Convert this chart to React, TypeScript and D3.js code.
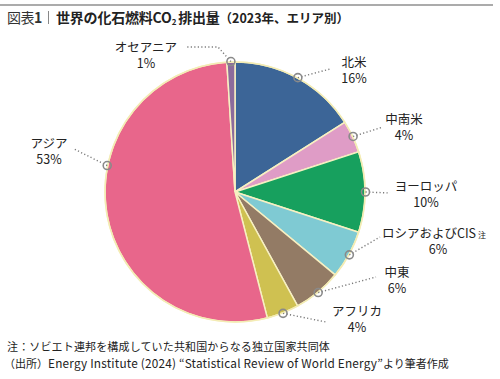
import React from "react";
import * as d3 from "d3";

const regions = ["北米", "中南米", "ヨーロッパ", "ロシアおよびCIS", "中東", "アフリカ", "アジア", "オセアニア"];
const shares = [16, 4, 10, 6, 6, 4, 53, 1];
const colors = ["#3c6597", "#df9cc6", "#17a05e", "#7fcad3", "#937b65", "#cfc151", "#e8668b", "#8c6b9c"];

// label layout (annotation placement)
const labelLayout = [
  { x: 354, y: 67, path: [[330, 69]], angle: null, note: false },
  { x: 404, y: 124, path: [[383, 127]], angle: null, note: false },
  { x: 426, y: 191, path: [[390, 193]], angle: null, note: false },
  { x: 434, y: 238, path: [[380, 237]], angle: null, note: true },
  { x: 397, y: 277, path: [[376, 277]], angle: null, note: false },
  { x: 357, y: 316, path: [[326, 322]], angle: null, note: false },
  { x: 49, y: 148, path: [[74, 149]], angle: 281.7, note: false },
  { x: 146, y: 52, path: [[218, 47], [185, 47]], angle: null, note: false },
];

const W = 500;
const H = 379;
const cx = 235;
const cy = 192;
const R = 130;
const FONT = "'Noto Sans CJK JP', 'Noto Sans', sans-serif";

export default function App() {
  const pie = d3.pie<number>().sort(null).value((d) => d);
  const arcs = pie(shares);
  const arcGen = d3.arc<d3.PieArcDatum<number>>().innerRadius(0).outerRadius(R);

  return (
    <svg width={W} height={H} style={{ position: "absolute", left: 0, top: 0, background: "#fff" }} fontFamily={FONT}>
      <rect x={0} y={4} width={493} height={2} fill="#ababab" />
      <text x={7} y={23} fontSize={14} fill="#333">
        <tspan letterSpacing={-0.5}>図表</tspan>
        <tspan fontWeight="bold">1</tspan>
      </text>
      <rect x={48} y={11} width={1} height={13} fill="#888" />
      <text x={56} y={23} fontSize={14} fontWeight="bold" fill="#222" letterSpacing={-0.2}>
        世界の化石燃料CO<tspan fontSize={8} dy={2}>2</tspan>
        <tspan dy={-2} dx={2}>排出量</tspan>
        <tspan fontSize={12.5} letterSpacing={0}>（2023年、エリア別）</tspan>
      </text>

      <g transform={`translate(${cx},${cy})`}>
        {arcs.map((a, i) => (
          <path key={i} d={arcGen(a) || ""} fill={colors[i]} stroke="#f7f0c2" strokeWidth={1.5} />
        ))}
        <circle r={R} fill="none" stroke="#f3ecb4" strokeWidth={1.5} />
      </g>

      {arcs.map((a, i) => {
        const lay = labelLayout[i];
        const ang = lay.angle !== null ? (lay.angle * Math.PI) / 180 : (a.startAngle + a.endAngle) / 2;
        const mx = cx + (R + 0.5) * Math.sin(ang);
        const my = cy - (R + 0.5) * Math.cos(ang);
        const pts = [[mx, my], ...lay.path];
        const line = d3.line()(pts as [number, number][]) || "";
        return (
          <g key={i}>
            <path d={line} fill="none" stroke="#7a7a7a" strokeWidth={1.4} strokeDasharray="1.2 2.3" />
            <circle cx={mx} cy={my} r={4} fill="none" stroke="#8a8a8a" strokeWidth={1.6} />
            <text fontSize={12.5} fill="#222" textAnchor="middle">
              <tspan x={lay.x} y={lay.y}>
                {regions[i]}
                {lay.note ? <tspan fontSize={8} dx={2}>注</tspan> : null}
              </tspan>
              <tspan x={lay.x + (lay.note ? 4 : 0)} y={lay.y + 16}>{shares[i]}%</tspan>
            </text>
          </g>
        );
      })}

      <text fontSize={11} fill="#222">
        <tspan x={7} y={351} letterSpacing={0.15}>注：ソビエト連邦を構成していた共和国からなる独立国家共同体</tspan>
        <tspan x={4} y={368}>
          （出所）<tspan fontSize={11.8} letterSpacing={0.2}>Energy Institute (2024) “Statistical Review of World Energy”</tspan>より筆者作成
        </tspan>
      </text>
    </svg>
  );
}
